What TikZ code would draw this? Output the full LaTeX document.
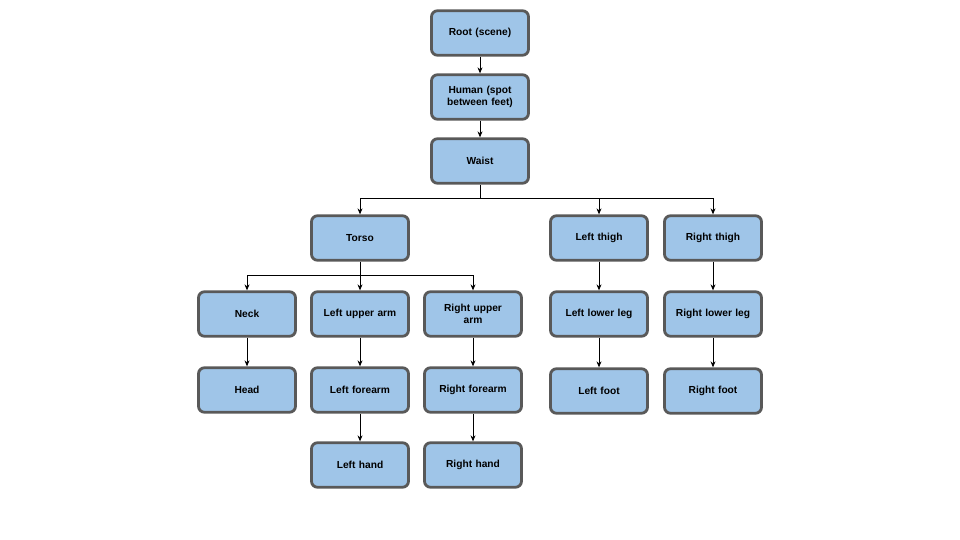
\documentclass[tikz,border=0pt]{standalone}
\usepackage{fontspec}
\setmainfont{Liberation Sans}
\usetikzlibrary{arrows.meta}
\definecolor{boxfill}{HTML}{9FC5E8}
\definecolor{boxline}{HTML}{595959}
\begin{document}
\begin{tikzpicture}[x=1pt,y=-1pt,
  box/.style={draw=boxline, fill=boxfill, line width=2.8pt, rounded corners=6pt,
    minimum width=97pt, minimum height=44.5pt, align=center, inner sep=1pt,
    font=\fontsize{10.2}{12.5}\selectfont\bfseries, text width=92pt},
  conn/.style={draw=black, line width=0.8pt, -{Stealth[length=6pt,width=5pt]}},
  line/.style={draw=black, line width=0.8pt}]
\useasboundingbox (0,0) rectangle (960,540);
\node[box] (root) at (480,33) {Root (scene)};
\node[box] (human) at (480,97) {Human (spot\\between feet)};
\node[box] (waist) at (480,161) {Waist};
\node[box] (torso) at (360,238) {Torso};
\node[box] (lthigh) at (599,238) {Left thigh};
\node[box] (rthigh) at (713,238) {Right thigh};
\node[box] (neck) at (247,314) {Neck};
\node[box] (lua) at (360,314) {Left upper arm};
\node[box] (rua) at (473,314) {Right upper\\arm};
\node[box] (lll) at (599,314) {Left lower leg};
\node[box] (rll) at (713,314) {Right lower leg};
\node[box] (head) at (247,390) {Head};
\node[box] (lfa) at (360,390) {Left forearm};
\node[box] (rfa) at (473,390) {Right forearm};
\node[box] (lfoot) at (599,391) {Left foot};
\node[box] (rfoot) at (713,391) {Right foot};
\node[box] (lhand) at (360,465) {Left hand};
\node[box] (rhand) at (473,465) {Right hand};
\coordinate (wj) at (480,198);
\coordinate (tj) at (360,275);
\draw[conn] (root) -- (human);
\draw[conn] (human) -- (waist);
\draw[line] (waist) -- (wj);
\draw[conn] (wj) -| (torso);
\draw[conn] (wj) -| (lthigh);
\draw[conn] (wj) -| (rthigh);
\draw[line] (torso) -- (tj);
\draw[conn] (tj) -| (neck);
\draw[conn] (tj) -- (lua);
\draw[conn] (tj) -| (rua);
\draw[conn] (neck) -- (head);
\draw[conn] (lua) -- (lfa);
\draw[conn] (lfa) -- (lhand);
\draw[conn] (rua) -- (rfa);
\draw[conn] (rfa) -- (rhand);
\draw[conn] (lthigh) -- (lll);
\draw[conn] (lll) -- (lfoot);
\draw[conn] (rthigh) -- (rll);
\draw[conn] (rll) -- (rfoot);
\end{tikzpicture}
\end{document}
